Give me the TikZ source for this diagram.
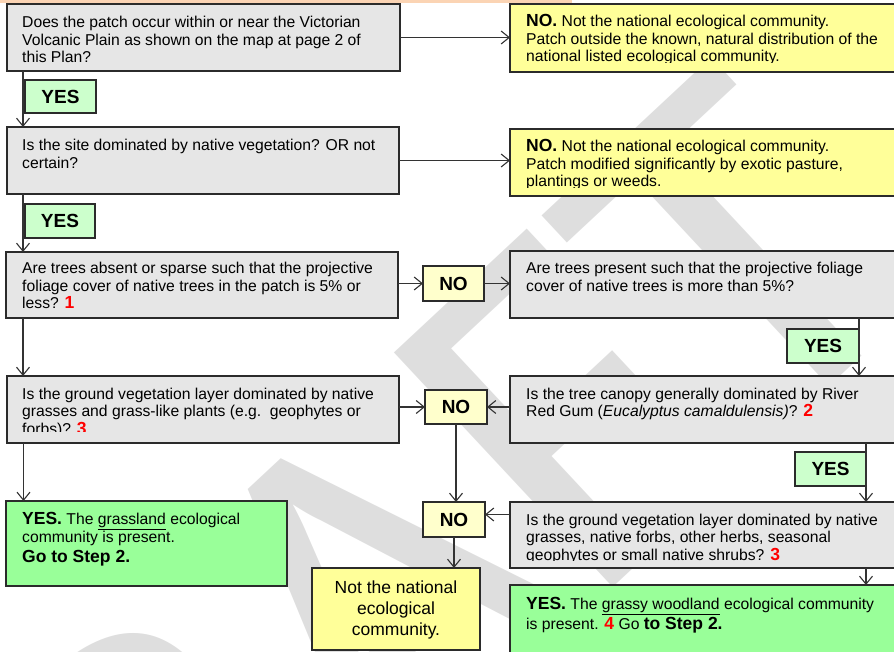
\documentclass[tikz,border=0pt]{standalone}
\usepackage{fontspec}
\setmainfont{Liberation Sans}
\newfontfamily\wmfont{Carlito}
\usetikzlibrary{arrows.meta}

\definecolor{askfill}{HTML}{E6E6E6}
\definecolor{notfill}{HTML}{FFFF99}
\definecolor{okfill}{HTML}{99FF99}
\definecolor{yesfill}{HTML}{CCFFCC}
\definecolor{nofill}{HTML}{FFFFCC}
\definecolor{edgecol}{HTML}{2B2B2B}
\definecolor{linecol}{HTML}{333333}
\definecolor{refred}{HTML}{FF0000}
\definecolor{headband}{HTML}{FBD4B4}
\definecolor{wmcol}{HTML}{DEDEDE}

\newcommand\bodysize{\fontsize{15.7}{17.6}\selectfont}
\newcommand\bigb[1]{{\fontsize{17.5}{17.6}\selectfont\bfseries #1}}
\newcommand\refno[1]{{\fontsize{17.5}{17.6}\selectfont\bfseries\color{refred}#1}}

% text of a panel, clipped to the panel interior
% #1 panel name, #2 x, #3 y of first line top, #4 clip bottom, #5 text
\newcommand\panelwords[5]{%
  \begin{scope}
    \clip ([shift={(2,2)}]#1.north west) rectangle (#1.east |- 0,#4);
    \node[words] (#1-words) at (#2,#3) {#5};
  \end{scope}}

\tikzset{
  panel/.style={draw=edgecol, line width=1.8pt, inner sep=0pt, outer sep=0pt, anchor=north west},
  ask/.style={panel, fill=askfill},
  notbox/.style={panel, fill=notfill},
  okbox/.style={panel, fill=okfill},
  tag/.style={panel, line width=1.6pt, font=\fontsize{19}{20}\selectfont\bfseries},
  yestag/.style={tag, fill=yesfill},
  notag/.style={tag, fill=nofill},
  words/.style={anchor=north west, inner sep=0pt, align=left, font=\bodysize},
  conn/.style={draw=linecol, line width=1.1pt,
    -{Straight Barb[length=8pt,width=13pt,line width=1.1pt]}},
}

\begin{document}
\begin{tikzpicture}[x=1pt, y=-1pt]
\useasboundingbox (0,0) rectangle (894,652);
\clip (0,0) rectangle (894,652);

% watermark behind everything
\node[rotate=43, text=wmcol, inner sep=0pt,
      font=\wmfont\fontsize{500}{500}\selectfont] (wm) at (335,628) {DRAFT};

% heading band
\fill[headband] (0,0) rectangle (572,3.5);

% question panels
\node[ask, minimum width=393pt, minimum height=67pt] (q1) at (7,4) {};
\node[ask, minimum width=392pt, minimum height=67pt] (q2) at (7,127) {};
\node[ask, minimum width=392pt, minimum height=66pt] (q3) at (6,252) {};
\node[ask, minimum width=400pt, minimum height=67pt] (q4) at (510,251) {};
\node[ask, minimum width=400pt, minimum height=67pt] (q5) at (510,376) {};
\node[ask, minimum width=392pt, minimum height=67pt] (q6) at (7,376) {};
\node[ask, minimum width=400pt, minimum height=66pt] (q7) at (510,502) {};

% outcome panels
\node[notbox, minimum width=400pt, minimum height=68pt] (n1) at (510,4) {};
\node[notbox, minimum width=400pt, minimum height=67pt] (n2) at (510,129) {};
\node[notbox, minimum width=168pt, minimum height=82pt] (n3) at (312,568) {};
\node[okbox, minimum width=281pt, minimum height=85pt] (g1) at (6,501) {};
\node[okbox, minimum width=400pt, minimum height=85pt] (g2) at (510,585) {};

% panel texts
\panelwords{q1}{22}{16}{63}{Does the patch occur within or near the Victorian\\Volcanic Plain as shown on the map at page 2 of\\this Plan?}
\panelwords{n1}{526}{14.2}{63}{\bigb{NO.} Not the national ecological community.\\Patch outside the known, natural distribution of the\\national listed ecological community.}
\panelwords{q2}{22}{139.4}{187}{Is the site dominated by native vegetation? OR not\\certain?}
\panelwords{n2}{526}{139.2}{187.5}{\bigb{NO.} Not the national ecological community.\\Patch modified significantly by exotic pasture,\\plantings or weeds.}
\panelwords{q3}{22}{262}{310}{Are trees absent or sparse such that the projective\\foliage cover of native trees in the patch is 5\% or\\less? \refno{1}}
\panelwords{q4}{526}{262}{310}{Are trees present such that the projective foliage\\cover of native trees is more than 5\%?}
\panelwords{q5}{526}{387.7}{435}{Is the tree canopy generally dominated by River\\Red Gum (\textit{Eucalyptus camaldulensis)}? \refno{2}}
\panelwords{q6}{22}{387.7}{431}{Is the ground vegetation layer dominated by native\\grasses and grass-like plants (e.g.\ \ geophytes or\\forbs)? \refno{3}}
\panelwords{q7}{526}{513.7}{560}{Is the ground vegetation layer dominated by native\\grasses, native forbs, other herbs, seasonal\\geophytes or small native shrubs? \refno{3}}
\panelwords{g1}{22}{512.5}{580}{\bigb{YES.} The \underline{grassland} ecological\\community is present.\\[2.4pt]\bigb{Go to Step 2.}}
\panelwords{g2}{526}{597.5}{652}{\bigb{YES.} The \underline{grassy woodland} ecological community\\[2.4pt]is present. \refno{4} Go \bigb{to Step 2.}}
\node[words, anchor=north, align=center, font=\fontsize{17.5}{21}\selectfont]
  (n3-words) at (396,580.2) {Not the national\\ecological\\community.};

% connectors
\coordinate (a1) at ([xshift=16pt]q1.south west);
\coordinate (a2) at ([xshift=16pt]q2.south west);
\coordinate (a3) at ([xshift=17pt]q3.south west);
\coordinate (a4) at ([xshift=16.5pt]q6.south west);
\draw[conn] (a1) -- (a1 |- q2.north);
\draw[conn] (a2) -- (a2 |- q3.north);
\draw[conn] (a3) -- (a3 |- q6.north);
\draw[conn] (a4) -- (a4 |- g1.north);

\draw[conn] (q1.east) -- (q1.east -| n1.west);
\draw[conn] (q2.east) -- (q2.east -| n2.west);

% yes / no tags
\node[yestag, minimum width=71pt, minimum height=33pt] (yes1) at (25,80) {YES};
\node[yestag, minimum width=70pt, minimum height=34pt] (yes2) at (25,204) {YES};
\node[yestag, minimum width=72pt, minimum height=34pt] (yes3) at (787,329) {YES};
\node[yestag, minimum width=71pt, minimum height=34pt] (yes4) at (795,452) {YES};
\node[notag, minimum width=61pt, minimum height=35pt] (noA) at (423,266) {NO};
\node[notag, minimum width=62pt, minimum height=34pt] (noB) at (425,390) {NO};
\node[notag, minimum width=62pt, minimum height=35pt] (noC) at (423,502) {NO};

\draw[conn] (noA.west -| q3.east) -- (noA.west);
\draw[conn] (noA.east) -- (noA.east -| q4.west);
\draw[conn] (noB.west -| q6.east) -- (noB.west);
\draw[conn] (noB.east -| q5.west) -- (noB.east);
\draw[conn] (noB.south) -- (noB.south |- noC.north);
\coordinate (c7) at ([yshift=5pt]noC.east);
\draw[conn] (c7 -| q7.west) -- (c7);
\draw[conn] (noC.south) -- (noC.south |- n3.north);

\draw[conn] (yes3.east |- q4.south) -- (yes3.east |- q5.north);
\draw[conn] (yes4.east |- q5.south) -- (yes4.east |- q7.north);
\draw[conn] (yes4.east |- q7.south) -- (yes4.east |- g2.north);
\end{tikzpicture}
\end{document}
